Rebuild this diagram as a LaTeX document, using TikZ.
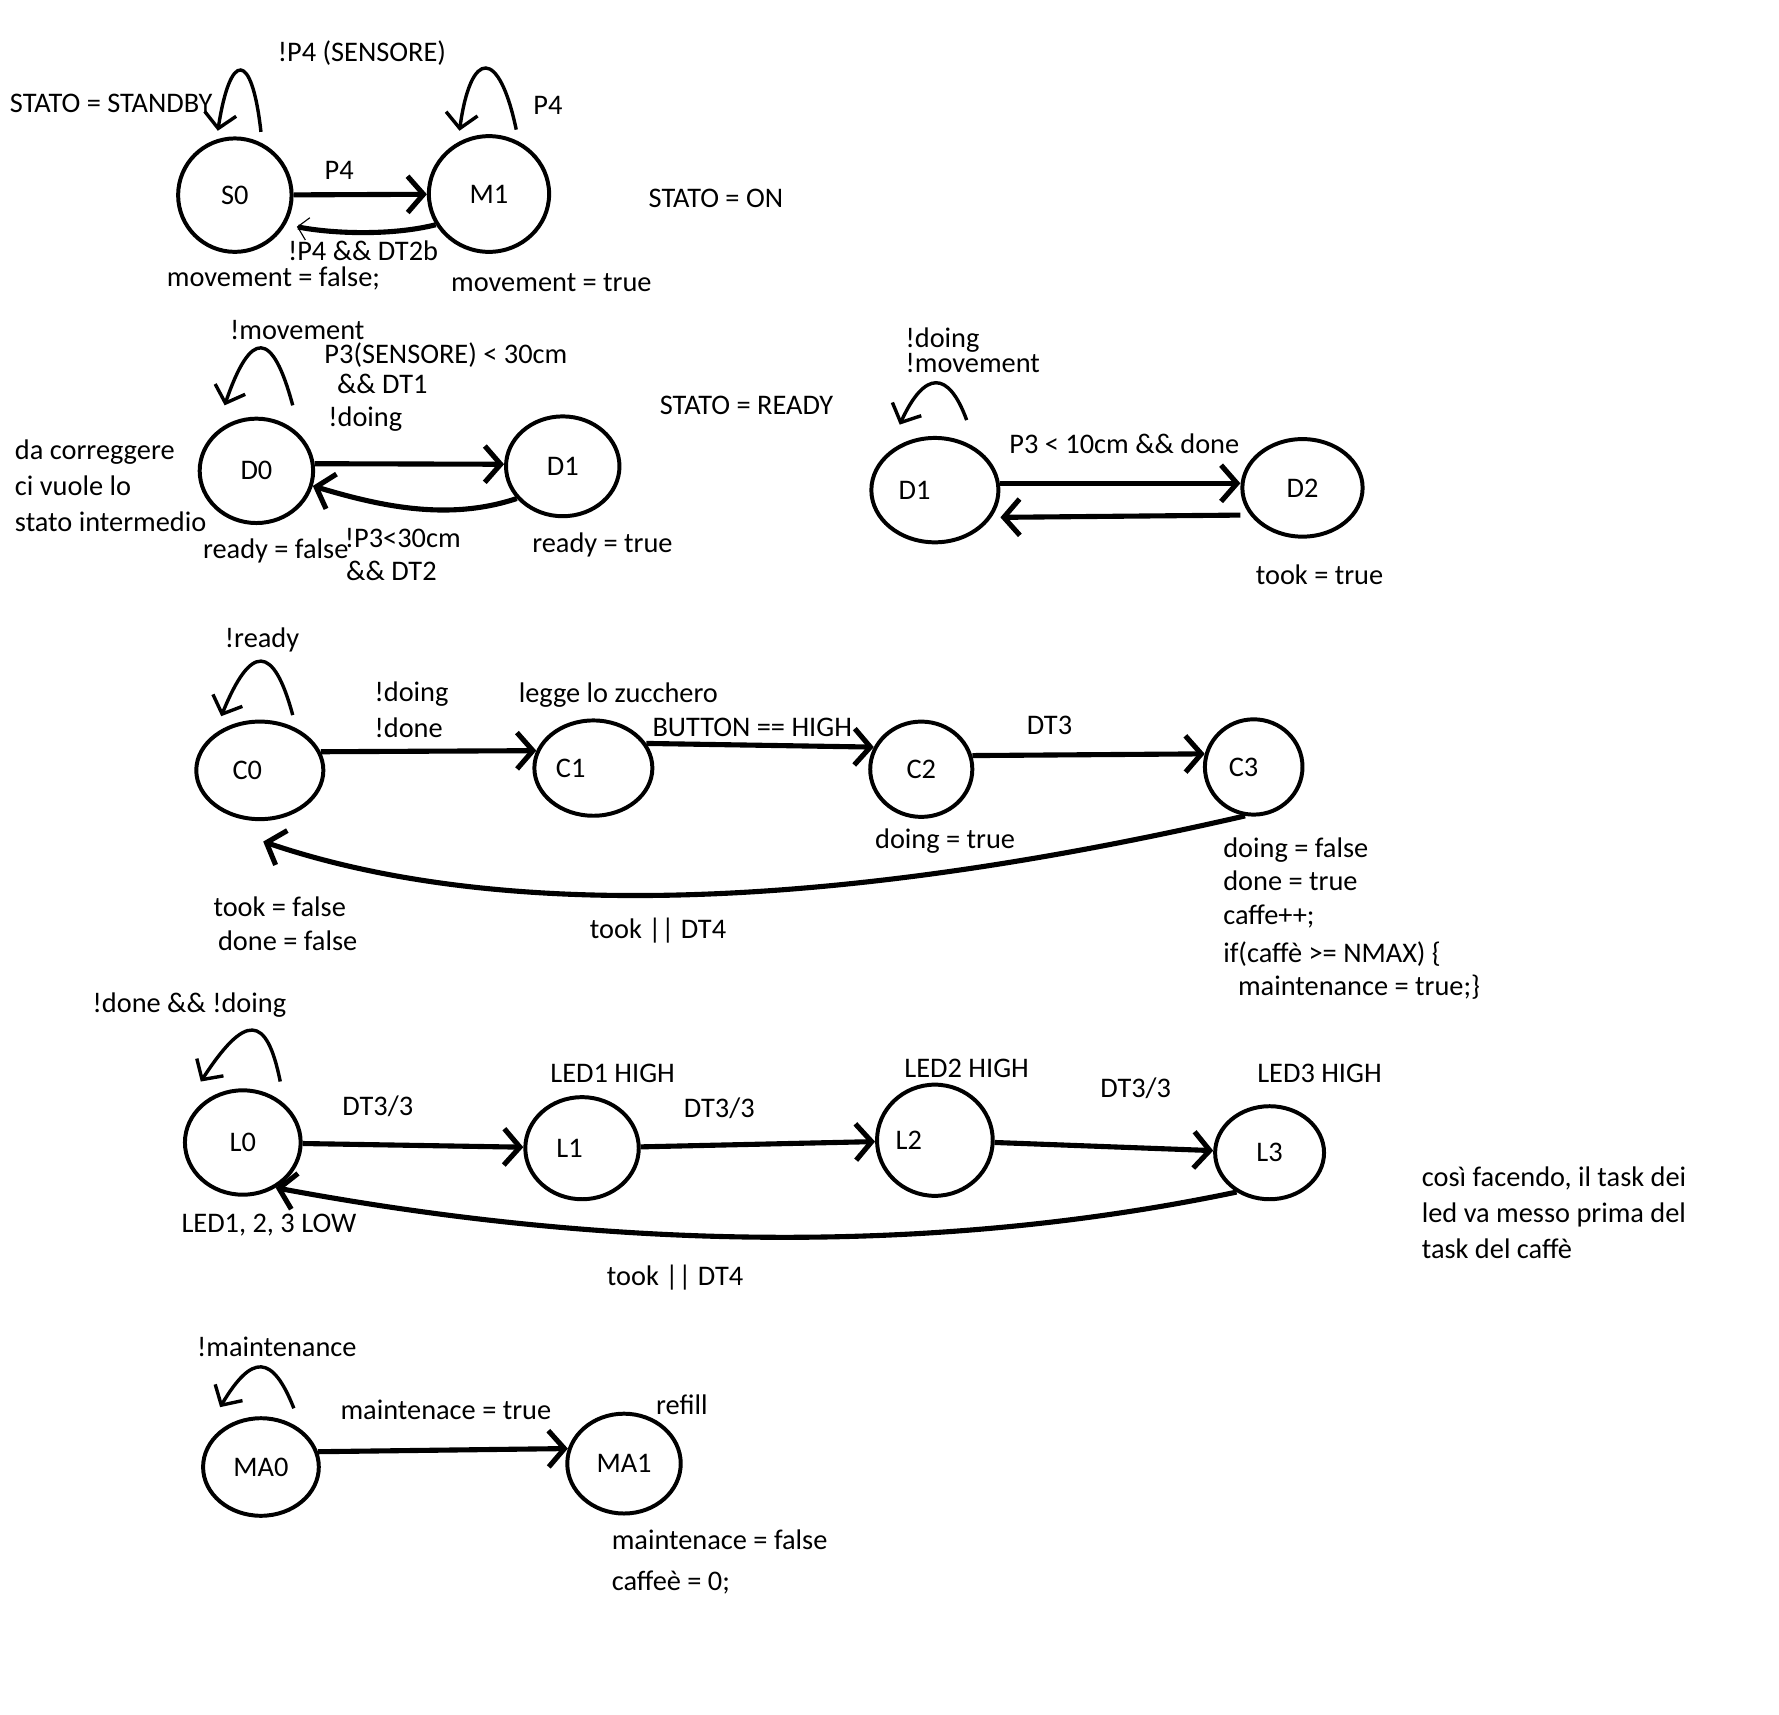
\documentclass[tikz,border=0pt]{standalone}
\usepackage{fontspec}
\setmainfont{Carlito}
\usetikzlibrary{arrows.meta,positioning,shapes.geometric,calc}

\begin{document}
\begin{tikzpicture}[x=1pt, y=-1pt,
  font=\fontsize{25}{29.5}\selectfont,
  state/.style={draw, ellipse, line width=3.5pt, inner sep=0pt},
  lbl/.style={inner sep=0pt},
  arr/.style={line width=4.5pt, -{Straight Barb[length=14pt, width=32pt]}},
  thinhead/.style={-{Straight Barb[length=9pt, width=20pt, line width=1pt]}},
  selfloop/.style={line width=3pt, -{Straight Barb[length=13pt, width=28pt]}}]
  \fill[white] (0,0) rectangle (1568,1511);
  \useasboundingbox (0,0) rectangle (1568,1511);

  % STATO = STANDBY / ON
  \node[state, minimum width=100pt, minimum height=100pt] (s0) at (207,172) {S0};
  \node[state, minimum width=106pt, minimum height=102pt] (m1) at (431,171) {M1};
  \node[lbl] (s0cond) at (319,47) {!P4 (SENSORE)};
  \node[lbl] (standby) at (98,91) {STATO = STANDBY};
  \node[lbl] (p4a) at (299,150) {P4};
  \node[lbl] (p4b) at (483,93) {P4};
  \node[lbl] (on) at (631,175) {STATO = ON};
  \node[lbl] (back1) at (320,221) {!P4 \&\& DT2b};
  \node[lbl] (s0out) at (241,245) {movement = false;};
  \node[lbl] (m1out) at (486,249) {movement = true};
  \draw[selfloop] ($(s0.north)+(23,-4)$) .. controls +(-8,-72) and +(11,-71) .. ($(s0.north)+(-15,-5)$);
  \draw[selfloop] ($(m1.north)+(24,-4)$) .. controls +(-15,-72) and +(10,-73) .. ($(m1.north)+(-26,-3)$);
  \draw[arr] (s0) -- (m1);
  \draw[arr, thinhead, shorten >=10pt] (m1.210) .. controls +(-40,10) and +(40,8) .. (s0.-30);

  % STATO = READY
  \node[state, minimum width=100pt, minimum height=92pt] (d0) at (226,415) {D0};
  \node[state, minimum width=100pt, minimum height=88pt] (d1) at (496,411) {D1};
  \node[lbl] (d0loop) at (262,291) {!movement};
  \node[lbl] (fwd1) at (393,313) {P3(SENSORE) < 30cm};
  \node[lbl] (fwd2) at (337,338) {\&\& DT1};
  \node[lbl] (fwd3) at (322,369) {!doing};
  \node[lbl] (ready) at (658,357) {STATO = READY};
  \node[lbl, align=left, anchor=west, font=\fontsize{25}{32}\selectfont] (note1) at (13,428)
    {da correggere\\ci vuole lo\\stato intermedio};
  \node[lbl] (d0out) at (243,486) {ready = false};
  \node[lbl] (bwd1) at (355,474) {!P3<30cm};
  \node[lbl] (bwd2) at (345,503) {\&\& DT2};
  \node[lbl] (d1out) at (531,480) {ready = true};
  \draw[selfloop] ($(d0.north)+(32,-10)$) .. controls +(-18,-67) and +(23,-67) .. ($(d0.north)+(-28,-10)$);
  \draw[arr] (d0.7) -- (d1.178);
  \draw[arr] (d1.215) .. controls +(-60,20) and +(60,18) .. (d0.-15);

  \node[state, minimum width=112pt, minimum height=92pt, label={[xshift=-18pt]center:D1}] (d1r) at (824,432) {};
  \node[state, minimum width=106pt, minimum height=86pt] (d2) at (1148,430) {D2};
  \node[lbl, align=left, anchor=west, font=\fontsize{25}{20}\selectfont] (d1rloop) at (798,309) {!doing\\!movement};
  \node[lbl] (took) at (991,391) {P3 < 10cm \&\& done};
  \node[lbl] (d2out) at (1163,507) {took = true};
  \draw[selfloop] ($(d1r.north)+(28,-14)$) .. controls +(-16,-44) and +(22,-48) .. ($(d1r.north)+(-31,-10)$);
  \draw[arr] ($(d1r.east)+(0,-6)$) -- ($(d2.west)+(0,-4)$);
  \draw[arr] ($(d2.west)+(0,24)$) -- ($(d1r.east)+(0,24)$);

  % caffe
  \node[state, minimum width=112pt, minimum height=86pt, label={[xshift=-11pt]center:C0}] (c0) at (229,679) {};
  \node[state, minimum width=104pt, minimum height=84pt, label={[xshift=-20pt]center:C1}] (c1) at (523,677) {};
  \node[state, minimum width=90pt, minimum height=84pt] (c2) at (812,678) {C2};
  \node[state, minimum width=86pt, minimum height=84pt, label={[xshift=-9pt]center:C3}] (c3) at (1105,676) {};
  \node[lbl] (c0loop) at (231,564) {!ready};
  \node[lbl, anchor=west] (c01a) at (330,612) {!doing};
  \node[lbl, anchor=west] (c01b) at (330,641) {!done};
  \node[lbl] (c1do) at (545,613) {legge lo zucchero};
  \node[lbl] (c12) at (663,641) {BUTTON == HIGH};
  \node[lbl] (c23) at (925,639) {DT3};
  \node[lbl] (c2out) at (833,741) {doing = true};
  \node[lbl, anchor=west] (c0outa) at (188,799) {took = false};
  \node[lbl, anchor=west] (c0outb) at (192,829) {done = false};
  \node[lbl] (c30) at (580,820) {took || DT4};
  \node[lbl, align=left, anchor=north west] (c3out) at (1078,738)
    {doing = false\\done = true\\caffe++;\\[4pt]if(caffè >= NMAX) \{\\\hspace*{13pt}maintenance = true;\}};
  \draw[selfloop] ($(c0.north)+(29,-4)$) .. controls +(-17,-63) and +(26,-64) .. ($(c0.north)+(-34,-3)$);
  \draw[arr] (c0.17) -- (c1.163);
  \draw[arr] (c1.25) -- (c2.155);
  \draw[arr] (c2.15) -- (c3.165);
  \draw[arr] (c3.260) .. controls +(-374,86) and +(203,69) .. ($(c0.south)+(3,18)$);

  % led
  \node[state, minimum width=102pt, minimum height=92pt] (l0) at (214,1007) {L0};
  \node[state, minimum width=100pt, minimum height=90pt, label={[xshift=-11pt]center:L1}] (l1) at (513,1012) {};
  \node[state, minimum width=102pt, minimum height=98pt, label={[xshift=-23pt]center:L2}] (l2) at (824,1005) {};
  \node[state, minimum width=96pt, minimum height=82pt] (l3) at (1119,1016) {L3};
  \node[lbl] (l0loop) at (167,886) {!done \&\& !doing};
  \node[lbl] (l01) at (333,975) {DT3/3};
  \node[lbl] (l1do) at (540,946) {LED1 HIGH};
  \node[lbl] (l12) at (634,977) {DT3/3};
  \node[lbl] (l2do) at (852,942) {LED2 HIGH};
  \node[lbl] (l23) at (1001,959) {DT3/3};
  \node[lbl] (l3do) at (1163,946) {LED3 HIGH};
  \node[lbl] (l0out) at (237,1080) {LED1, 2, 3 LOW};
  \node[lbl] (l30) at (595,1126) {took || DT4};
  \node[lbl, align=left, anchor=west, font=\fontsize{25}{31.5}\selectfont] (note2) at (1253,1069)
    {così facendo, il task dei\\led va messo prima del\\task del caffè};
  \draw[selfloop] ($(l0.north)+(33,-6)$) .. controls +(-12,-60) and +(39,-60) .. ($(l0.north)+(-37,-6)$);
  \draw[arr] (l0) -- (l1);
  \draw[arr] (l1) -- (l2);
  \draw[arr] (l2) -- (l3);
  \draw[arr] (l3.230) .. controls +(-263,55) and +(300,56) .. (l0.-54);

  % maintenance
  \node[state, minimum width=102pt, minimum height=86pt] (ma0) at (230,1293) {MA0};
  \node[state, minimum width=100pt, minimum height=88pt] (ma1) at (550,1290) {MA1};
  \node[lbl] (ma0loop) at (244,1187) {!maintenance};
  \node[lbl] (ma01) at (393,1243) {maintenace = true};
  \node[lbl] (ma1do) at (601,1238) {refill};
  \node[lbl, align=left, anchor=west, font=\fontsize{25}{36}\selectfont] (ma1out) at (539,1377)
    {maintenace = false\\caffeè = 0;};
  \draw[selfloop] ($(ma0.north)+(29,-7)$) .. controls +(-19,-48) and +(28,-47) .. ($(ma0.north)+(-36,-8)$);
  \draw[arr] (ma0.15) -- (ma1.165);
\end{tikzpicture}
\end{document}
